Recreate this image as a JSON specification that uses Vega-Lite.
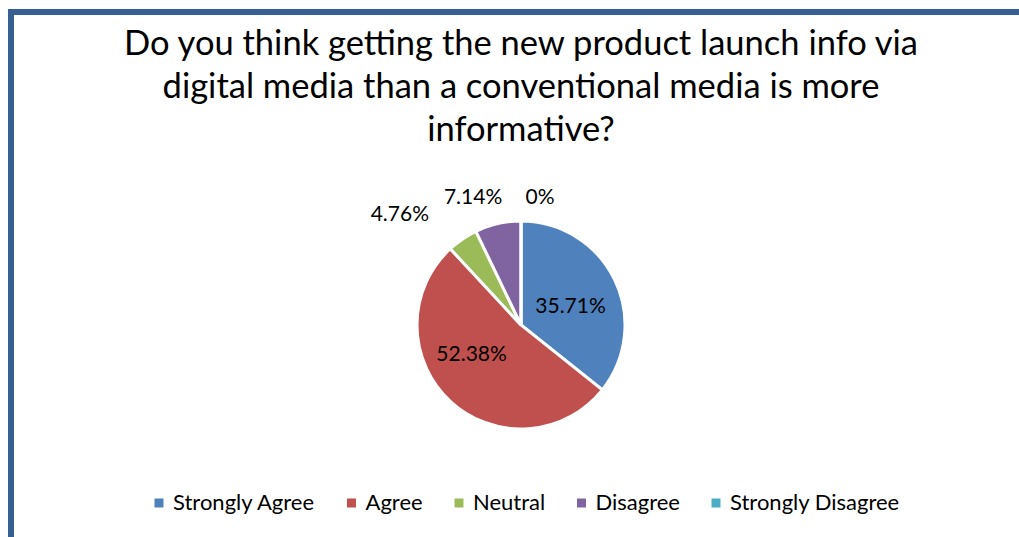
{
  "$schema": "https://vega.github.io/schema/vega-lite/v6.json",
  "autosize": {"type": "none"},
  "width": 1020,
  "height": 626,
  "padding": {"left": 11, "top": 12, "right": -12, "bottom": -101},
  "background": "white",
  "view": {"stroke": "#376092", "strokeWidth": 6, "fill": null},
  "config": {
    "font": "Lato"
  },
  "title": {
    "text": ["Do you think getting the new product launch info via", "digital media than a conventional media is more", "informative?"],
    "fontSize": 34.5,
    "fontWeight": "normal",
    "font": "Lato",
    "color": "#000000",
    "lineHeight": 43,
    "anchor": "middle",
    "baseline": "top",
    "offset": 0,
    "dy": 136
  },
  "data": {
    "values": [
      {"category": "Strongly Agree", "value": 35.71, "label": "35.71%", "rank": 1},
      {"category": "Agree", "value": 52.38, "label": "52.38%", "rank": 2},
      {"category": "Neutral", "value": 4.76, "label": "4.76%", "rank": 3},
      {"category": "Disagree", "value": 7.14, "label": "7.14%", "rank": 4},
      {"category": "Strongly Disagree", "value": 0, "label": "0%", "rank": 5}
    ]
  },
  "encoding": {
    "theta": {"field": "value", "type": "quantitative", "stack": true},
    "order": {"field": "rank", "type": "quantitative"}
  },
  "layer": [
    {
      "mark": {"type": "arc", "outerRadius": 104, "stroke": "white", "strokeWidth": 3},
      "encoding": {
        "color": {
          "field": "category",
          "type": "nominal",
          "scale": {
            "domain": ["Strongly Agree", "Agree", "Neutral", "Disagree", "Strongly Disagree"],
            "range": ["#4F81BD", "#C0504D", "#9BBB59", "#8064A2", "#4BACC6"]
          },
          "legend": {
            "title": null,
            "orient": "none",
            "legendX": 137,
            "legendY": 480,
            "direction": "horizontal",
            "symbolType": "square",
            "symbolSize": 81,
            "symbolStrokeWidth": 0,
            "labelFont": "Lato",
            "labelFontSize": 22,
            "labelColor": "#000000",
            "labelLimit": 400,
            "columnPadding": 24.5,
            "labelOffset": 3
          }
        }
      }
    },
    {
      "mark": {"type": "text", "radius": 55, "fontSize": 21, "color": "#000000", "dy": 6},
      "encoding": {"text": {"condition": {"test": "datum.category === 'Strongly Agree'", "field": "label"}, "value": ""}}
    },
    {
      "mark": {"type": "text", "radius": 55, "fontSize": 21, "color": "#000000", "dx": -12, "dy": -10},
      "encoding": {"text": {"condition": {"test": "datum.category === 'Agree'", "field": "label"}, "value": ""}}
    },
    {
      "mark": {"type": "text", "radius": 130, "fontSize": 21, "color": "#000000", "dx": -48, "dy": -3},
      "encoding": {"text": {"condition": {"test": "datum.category === 'Neutral'", "field": "label"}, "value": ""}}
    },
    {
      "mark": {"type": "text", "radius": 130, "fontSize": 21, "color": "#000000", "dx": -19, "dy": 0},
      "encoding": {"text": {"condition": {"test": "datum.category === 'Disagree'", "field": "label"}, "value": ""}}
    },
    {
      "mark": {"type": "text", "radius": 130, "fontSize": 21, "color": "#000000", "dx": 19, "dy": 3},
      "encoding": {"text": {"condition": {"test": "datum.category === 'Strongly Disagree'", "field": "label"}, "value": ""}}
    }
  ]
}
